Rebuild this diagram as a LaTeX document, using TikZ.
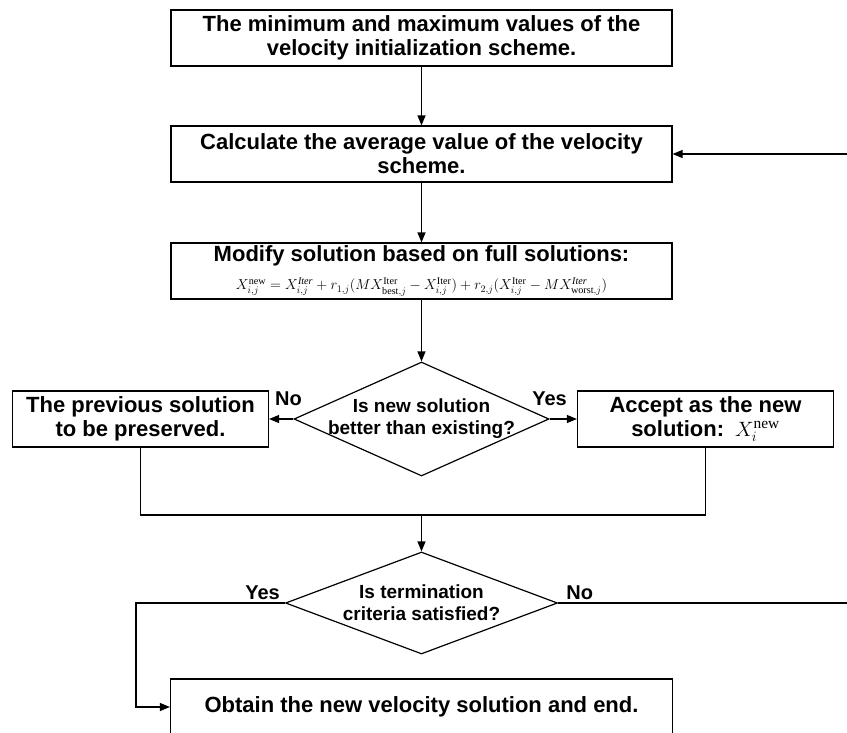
\documentclass[tikz,border=0pt]{standalone}
\usepackage{amsmath}
\usepackage{fontspec}
\setmainfont{Liberation Sans}
\newfontfamily\serif{Liberation Serif}
\usetikzlibrary{shapes.geometric,arrows.meta,positioning}
\newcommand{\up}[1]{\text{\serif\mdseries #1}}

\begin{document}
\begin{tikzpicture}[x=1pt, y=1pt, >={Triangle[length=10pt,width=8pt]}, line width=1.2pt, node distance=116pt]
\tikzstyle{process}=[draw, rectangle, minimum width=501pt, minimum height=56pt, inner sep=0pt, align=center, font=\fontsize{22}{24}\selectfont\bfseries]
\tikzstyle{side}=[process, minimum width=256pt]
\tikzstyle{decision}=[draw, diamond, minimum width=255pt, minimum height=114pt, inner sep=0pt]
\tikzstyle{dtext}=[align=center, font=\fontsize{19}{22}\selectfont\bfseries]
\tikzstyle{answer}=[font=\fontsize{20}{23}\selectfont\bfseries, inner sep=2pt]
\useasboundingbox (0,0) rectangle (847,-732);

\node[process]  (1) at (421.5,-38) {The minimum and maximum values of the\\velocity initialization scheme.};
\node[process]  (2) [below of=1] {Calculate the average value of the velocity\\scheme.};
\node[process]  (3) [below of=2, node distance=117pt] {Modify solution based on full solutions:\\[4pt]{\fontsize{14.5}{16}\selectfont $X_{i,j}^{\up{new}} = X_{i,j}^{\up{\itshape Iter}} + r_{1,j}(MX_{\up{best},j}^{\up{Iter}} - X_{i,j}^{\up{Iter}}) + r_{2,j}(X_{i,j}^{\up{Iter}} - MX_{\up{worst},j}^{\up{\itshape Iter}})$}};
\node[decision] (4) [below of=3, node distance=148pt] {};
\node[dtext]    (4t) at (4) {Is new solution\\better than existing?};
\node[side]     (5) [left of=4, node distance=281pt] {The previous solution\\to be preserved.};
\node[side]     (6) [right of=4, node distance=284pt] {Accept as the new\\solution:\enspace$X_i^{\up{new}}$};
\node[decision, minimum width=272pt, minimum height=102pt] (7) [below of=4, node distance=184pt] {};
\node[dtext]    (7t) at (7) {Is termination\\criteria satisfied?};
\node[process, minimum width=502pt] (8) [below of=7, node distance=104pt] {Obtain the new velocity solution and end.};

\coordinate (m) at (421.5,-515);
\coordinate (yl) at (136,-603);
\coordinate (nr) at (849,-603);

\path[->]
(1) edge (2)
(2) edge (3)
(3) edge (4)
(4) edge node[answer, pos=0.2, above=11pt]{No} (5)
(4) edge node[answer, pos=0, above=11pt]{Yes} (6)
(m) edge (7);

\draw (5) -- (5 |- m) -- (6 |- m) -- (6);
\draw[->] (7) -- node[answer, pos=0.15, above=1pt]{Yes} (yl) |- (8);
\draw[->] (7) -- node[answer, pos=0.074, above=1pt]{No} (nr) |- (2);
\end{tikzpicture}
\end{document}
